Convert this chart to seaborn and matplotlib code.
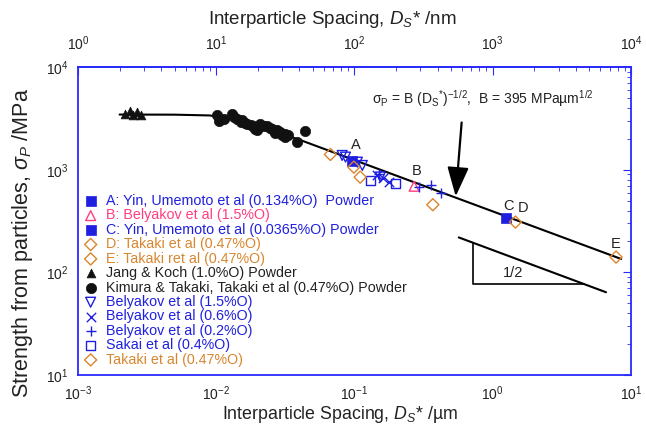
import numpy as np
import pandas as pd
import matplotlib
matplotlib.use("Agg")
import matplotlib.pyplot as plt
import seaborn as sns

# values (x in um, y in MPa)
a_d, a_s = [0.096], [1230]
b_d, b_s = [0.27], [690]
c_d, c_s = [1.25], [340]
d_d, d_s = [1.46], [309]
e_d, e_s = [7.8], [141]

jang_d = [0.00219, 0.00238, 0.00250, 0.00268, 0.00286]
jang_s = [3530, 3697, 3450, 3612, 3380]

kimura_d = [0.0101, 0.0105, 0.0113, 0.0130, 0.0135, 0.0141, 0.0150, 0.0154,
            0.0162, 0.0167, 0.0178, 0.0185, 0.0190, 0.0197, 0.0208, 0.0220,
            0.0233, 0.0245, 0.0253, 0.0265, 0.0275, 0.0291, 0.0300, 0.0316,
            0.0332, 0.0316, 0.0385, 0.0441]
kimura_s = [3380, 3000, 3150, 3455, 3250, 3140, 2950, 3020,
            2850, 2806, 2700, 2698, 2500, 2415, 2806, 2650,
            2698, 2550, 2506, 2300, 2415, 2323, 2200, 2243,
            2157, 2075, 1857, 2377]

bel15_d = [0.0815, 0.0862, 0.105, 0.114, 0.154]
bel15_s = [1378, 1328, 1186, 1101, 850]
bel06_d = [0.146, 0.160, 0.177]
bel06_s = [880, 830, 757]
bel02_d = [0.150, 0.295, 0.36, 0.42]
bel02_s = [900, 672, 703, 588]
sakai_d = [0.131, 0.198]
sakai_s = [787, 731]
takaki_d = [0.067, 0.099, 0.110, 0.369]
takaki_s = [1409, 1060, 847, 456]

# fitted curve
fit_d = [0.002, 0.005, 0.009, 0.015, 0.025, 0.04, 8.5]
fit_s = [3450, 3440, 3380, 3000, 2420, 1960, 135]

# slope triangle
slope_d = [0.568, 6.6]
slope_s = [219, 64]
tri_d = [0.716, 0.716, 4.6]
tri_s = [195, 77, 77]

BLUE = "#1f1fe0"
PINK = "#ff3d80"
ORANGE = "#d9862e"
BLACK = "#111111"
AXBLUE = "#2a2aff"

sns.set_theme(style="white")
plt.rcParams["font.family"] = ["Liberation Sans", "DejaVu Sans"]
plt.rcParams["mathtext.fontset"] = "custom"
plt.rcParams["mathtext.rm"] = "Liberation Sans"
plt.rcParams["mathtext.it"] = "Liberation Sans:italic"

fig = plt.figure(figsize=(6.46, 4.33), dpi=100)
ax = fig.add_axes([0.1207, 0.134, 0.856, 0.711])
ax.set_xscale("log")
ax.set_yscale("log")

sns.lineplot(x=fit_d, y=fit_s, ax=ax, color="black", lw=1.5, sort=False,
             estimator=None)
ax.plot(slope_d, slope_s, color="black", lw=1.5)
ax.plot(tri_d, tri_s, color="black", lw=1.2)

series = [
    (a_d, a_s, "s", BLUE, True, "A: Yin, Umemoto et al (0.134%O)  Powder", 42),
    (b_d, b_s, "^", PINK, False, "B: Belyakov et al (1.5%O)", 50),
    (c_d, c_s, "s", BLUE, True, "C: Yin, Umemoto et al (0.0365%O) Powder", 42),
    (d_d, d_s, "D", ORANGE, False, "D: Takaki et al (0.47%O)", 38),
    (e_d, e_s, "D", ORANGE, False, "E: Takaki ret al (0.47%O)", 38),
    (jang_d, jang_s, "^", BLACK, True, "Jang & Koch (1.0%O) Powder", 40),
    (kimura_d, kimura_s, "o", BLACK, True,
     "Kimura & Takaki, Takaki et al (0.47%O) Powder", 55),
    (bel15_d, bel15_s, "v", BLUE, False, "Belyakov et al (1.5%O)", 50),
    (bel06_d, bel06_s, "x", BLUE, None, "Belyakov et al (0.6%O)", 45),
    (bel02_d, bel02_s, "+", BLUE, None, "Belyakov et al (0.2%O)", 60),
    (sakai_d, sakai_s, "s", BLUE, False, "Sakai et al (0.4%O)", 45),
    (takaki_d, takaki_s, "D", ORANGE, False, "Takaki et al (0.47%O)", 38),
]

text_colors = []
for xs, ys, mk, col, filled, lab, size in series:
    if filled is None:
        sns.scatterplot(x=xs, y=ys, ax=ax, marker=mk, color=col, s=size,
                        linewidth=1.0, label=lab, zorder=3)
    elif filled:
        sns.scatterplot(x=xs, y=ys, ax=ax, marker=mk, facecolor=col,
                        edgecolor=col, s=size, linewidth=0.5, label=lab, zorder=3)
    else:
        sns.scatterplot(x=xs, y=ys, ax=ax, marker=mk, facecolor="none",
                        edgecolor=col, s=size, linewidth=1.0, label=lab, zorder=3)
    text_colors.append("#222222" if col == BLACK else col)

leg = ax.legend(loc="upper left", bbox_to_anchor=(0.01, 0.588), frameon=False,
                fontsize=10.3, borderaxespad=0, borderpad=0, labelspacing=0.03,
                handlelength=1.0, handletextpad=0.55)
for t, c in zip(leg.get_texts(), text_colors):
    t.set_color(c)

ax.set_xlim(1e-3, 1e1)
ax.set_ylim(1e1, 1e4)

# point labels
for txt, xx, yy in [("A", 0.1016, 1726), ("B", 0.281, 973), ("C", 1.30, 440),
                    ("D", 1.65, 420), ("E", 7.78, 191)]:
    ax.text(xx, yy, txt, fontsize=10.5, ha="center", va="center", color="#222222")
ax.text(1.40, 97.8, "1/2", fontsize=10.5, ha="center", va="center", color="#222222")

ax.text(0.135, 4940,
        "σ$_\\mathrm{P}$ = B (D$_\\mathrm{S}$$^{*}$)$^{-1/2}$,  B = 395 MPaµm$^{1/2}$",
        fontsize=10, ha="left", va="center", color="#222222")
ax.annotate("", xy=(0.54, 550), xytext=(0.596, 2885),
            arrowprops=dict(arrowstyle="-|>,head_length=1.5,head_width=0.55",
                            color="black", lw=1.6, shrinkA=0, shrinkB=0))

for sp in ax.spines.values():
    sp.set_color(AXBLUE)
    sp.set_linewidth(1.3)
ax.tick_params(which="both", direction="in", colors=AXBLUE, labelcolor="#222222",
               right=True, top=False, labelsize=10)
ax.tick_params(which="major", length=6, width=0.8)
ax.tick_params(which="minor", length=3, width=0.6)
ax.tick_params(axis="x", which="major", pad=7)
ax.tick_params(axis="y", which="major", pad=7)

top = ax.secondary_xaxis("top", functions=(lambda x: x * 1000, lambda x: x / 1000))
top.spines["top"].set_color(AXBLUE)
top.tick_params(which="both", direction="in", colors=AXBLUE, labelcolor="#222222",
                labelsize=10)
top.tick_params(which="major", length=6, width=0.8, pad=10)
top.tick_params(which="minor", length=3, width=0.6)
top.set_xlabel("Interparticle Spacing, $\\it{D}_\\mathit{S}$* /nm", fontsize=13.5,
               color="#222222", va="center")
top.xaxis.set_label_coords(0.514, 0.956, transform=fig.transFigure)

ax.set_xlabel("Interparticle Spacing, $\\it{D}_\\mathit{S}$* /µm", fontsize=12.8,
              color="#222222", va="center")
ax.xaxis.set_label_coords(0.527, 0.043, transform=fig.transFigure)
ax.set_ylabel("Strength from particles, $\\it{σ}_\\mathit{P}$ /MPa", fontsize=15.5,
              color="#222222", va="center")
ax.yaxis.set_label_coords(-0.101, 0.43)

fig.savefig("out.png", dpi=100, facecolor="white")
